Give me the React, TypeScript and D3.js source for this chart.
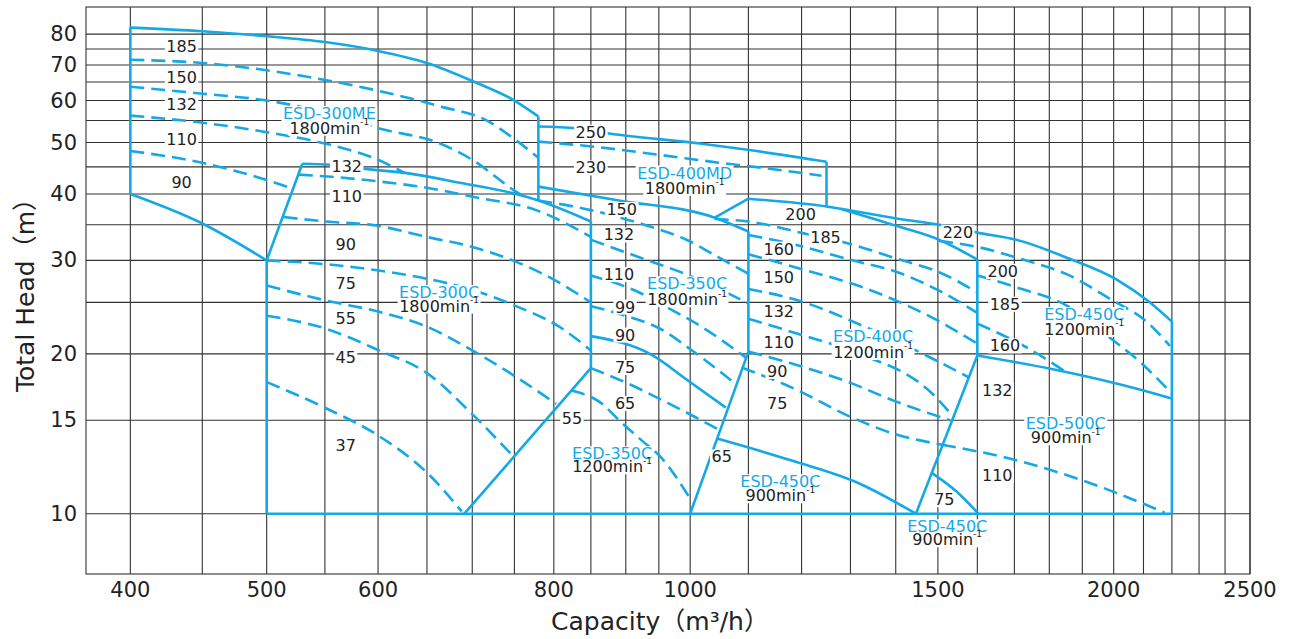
import { useEffect, useRef } from 'react';
import * as d3 from 'd3';

// axes
const xDomain = [372, 2500];
const yDomain = [7.7, 90];
const xGrid = [400, 450, 500, 550, 600, 650, 700, 750, 800, 850, 900, 950, 1000, 1100, 1200, 1300, 1400, 1500, 1600, 1700, 1800, 1900, 2000, 2100, 2200, 2300, 2400, 2500];
const xTicks = [400, 500, 600, 800, 1000, 1500, 2000, 2500];
const yGrid = [10, 15, 20, 25, 30, 35, 40, 45, 50, 55, 60, 65, 70, 75, 80];
const yTicks = [10, 15, 20, 30, 40, 50, 60, 70, 80];

// [capacity m3/h, head m]
// ESD-300ME 1800min-1
const me300Max = [[400, 82.3], [450, 81], [500, 79.3], [550, 77.3], [600, 74.4], [650, 70.6], [700, 65.3], [750, 60], [780, 56]];
const me300Left = [[400, 40], [400, 82.3]];
const me300Min = [[400, 40], [450, 35.2], [500, 30]];
const me300Right = [[780, 56], [780, 38.9]];
const me300Kw = [
  [[400, 71.6], [450, 70.6], [500, 68.4], [550, 65.6], [600, 62.6], [664, 58.5], [717, 55], [752, 50.5], [780, 46.8]],
  [[400, 63.7], [450, 61.8], [500, 60], [550, 57], [600, 53.2], [664, 49.8], [700, 46.4], [750, 40.6], [765, 39.3]],
  [[400, 56.2], [450, 54.5], [500, 52.3], [550, 49.8], [600, 46.4], [627, 43.8]],
  [[400, 48.2], [450, 45.8], [500, 42.5], [521, 41]],
];

// ESD-300C 1800min-1
const c300Edge = [[500, 30], [530, 45.6]];
const c300Max = [[530, 45.6], [556, 45.4], [587, 44.6], [629, 43.8], [689, 41.9], [752, 40], [780, 38.9], [850, 35.5]];
const c300Left = [[500, 10], [500, 30]];
const c300Right = [[850, 35.5], [850, 18.8]];
const baseline = [[500, 10], [2200, 10]];
const c300Kw = [
  [[527, 43.5], [556, 43.1], [598, 42.3], [650, 41.1], [705, 39.4], [777, 37.3], [850, 33.2]],
  [[514, 36.2], [551, 35.5], [598, 34.9], [650, 33.2], [700, 31.8], [750, 29.9], [794, 27.9], [850, 25]],
  [[500, 30], [551, 29.5], [601, 28.7], [650, 27.7], [700, 26.4], [752, 24.6], [807, 22.5], [850, 20.3]],
  [[500, 26.9], [551, 25.2], [601, 24], [650, 22.5], [700, 20.3], [752, 18.1], [803, 16.1]],
  [[500, 23.6], [551, 22.3], [601, 20.3], [650, 18.4], [700, 15.4], [745, 13.0]],
  [[500, 17.7], [551, 15.8], [601, 14.0], [650, 11.95], [688, 10.1]],
];

// ESD-400MD 1800min-1
const md400Max = [[780, 53.6], [830, 53.2], [876, 52], [1016, 49.8], [1102, 48.4], [1250, 46]];
const md400Right = [[1250, 46], [1250, 37.9]];
const md400Kw = [[[780, 50.2], [861, 49], [951, 47.4], [1050, 45.8], [1157, 44.4], [1240, 43.3]]];

// ESD-350C 1800min-1
const c350Max = [[780, 41.3], [890, 38.9], [1041, 36.1], [1100, 34]];
const c350Min = [[850, 21.6], [941, 19.85], [994, 17.9], [1060, 15.85]];
const c350Kw = [
  [[780, 38.9], [850, 37.3], [931, 34.9], [994, 32.8], [1050, 30.3], [1100, 28.3]],
  [[850, 32.8], [920, 30.4], [998, 28.1], [1100, 24.9]],
  [[850, 28.1], [920, 26.1], [962, 24.5], [1016, 22.6], [1095, 19.7]],
  [[850, 24.6], [904, 23.5], [952, 22.3], [1003, 20.3], [1076, 17.6]],
];

// ESD-350C 1200min-1
const c350LowLeft = [[691, 10], [850, 18.8]];
const c350LowKw = [
  [[850, 18.8], [900, 17.66], [967, 16.1], [1048, 14.4]],
  [[823, 17.06], [866, 16.1], [890, 15], [925, 13.7], [951, 12.86], [998, 10.77]],
];

// ESD-400C 1200min-1
const c400Edge = [[1041, 36.1], [1100, 39.2]];
const c400Left = [[1100, 34], [1100, 20.2]];
const c400Max = [[1280, 37.5], [1409, 34.7], [1503, 32.8], [1600, 30.1]];
const c400Right = [[1600, 30.1], [1600, 19.86]];
const c400Kw = [
  [[1041, 35.9], [1100, 35.5], [1200, 33.8], [1292, 32.35], [1409, 30.1], [1503, 28.5], [1600, 26.1]],
  [[1100, 33.5], [1194, 32], [1298, 30.1], [1409, 28.4], [1503, 26.3], [1600, 23.9]],
  [[1100, 30.8], [1194, 29], [1336, 26.5], [1486, 23.4], [1600, 20.9]],
  [[1100, 26.5], [1194, 25.2], [1336, 22.4], [1447, 20.3], [1579, 18.05]],
  [[1100, 23.3], [1194, 21.8], [1320, 20], [1486, 16.84], [1532, 15.43]],
  [[1100, 20.2], [1181, 19.18], [1304, 17.58], [1395, 16.33], [1530, 15]],
  [[1088, 18.85], [1181, 17.28], [1304, 15.17], [1395, 14.15], [1510, 13.49]],
];

// ESD-450C 1200min-1
const c450HiMax = [[1100, 39.2], [1250, 37.9], [1409, 35.9], [1503, 35], [1603, 33.8], [1705, 32.8], [1855, 30.3], [2010, 27.6], [2114, 25.2], [2200, 23]];
const c450HiRight = [[2200, 23], [2200, 10]];
const c450HiKw = [
  [[1503, 32.65], [1600, 31.8], [1724, 30.1], [1855, 28.2], [1997, 25.2], [2107, 23.1], [2193, 20.7]],
  [[1600, 28.1], [1705, 26.7], [1855, 24.6], [1978, 21.67], [2090, 19.27], [2200, 16.84]],
  [[1600, 22.8], [1735, 20.56], [1843, 18.6]],
];

// ESD-450C 900min-1 (two bands)
const c450LowLeft = [[1000, 10], [1100, 20.2]];
const c450LowMax = [[1045, 13.85], [1181, 12.59], [1320, 11.39], [1447, 10]];
const c450Low2Left = [[1600, 19.86], [1447, 10]];
const c450Low2Max = [[1484, 11.95], [1547, 11.0], [1603, 10]];

// ESD-500C 900min-1
const c500Max = [[1600, 19.86], [1800, 18.77], [2100, 17.06], [2200, 16.47]];
const c500Kw = [[[1510, 13.49], [1687, 12.7], [1903, 11.54], [2100, 10.44], [2174, 10.04]]];

// motor kW labels [capacity, head, text]
const kwLabels: [number, number, string][] = [
  [435, 75.7, '185'], [435, 66.25, '150'], [435, 59, '132'], [435, 50.7, '110'], [435, 42.1, '90'],
  [570, 45, '132'], [570, 39.5, '110'], [569, 32.2, '90'], [569, 27.1, '75'], [569, 23.3, '55'], [569, 19.7, '45'], [569, 13.45, '37'],
  [850, 52.3, '250'], [850, 44.8, '230'],
  [894, 37.4, '150'], [890, 33.5, '132'], [890, 28.2, '110'], [899, 24.5, '99'], [899, 21.7, '90'],
  [899, 18.85, '75'], [899, 16.12, '65'], [824, 15.13, '55'],
  [1053, 12.8, '65'],
  [1198, 36.6, '200'], [1248, 33.1, '185'], [1156, 31.5, '160'], [1156, 27.8, '150'], [1156, 24.0, '132'], [1156, 21.0, '110'], [1153, 18.53, '90'], [1153, 16.12, '75'],
  [1550, 33.9, '220'], [1668, 28.6, '200'], [1674, 24.8, '185'], [1674, 20.7, '160'],
  [1653, 17.06, '132'], [1653, 11.79, '110'],
  [1516, 10.63, '75'],
];

// model labels [capacity, head of name, head of speed, name, speed]
const modelLabels: [number, number, number, string, string][] = [
  [554, 56.7, 53.2, 'ESD-300ME', '1800'],
  [663, 26.1, 24.6, 'ESD-300C', '1800'],
  [991, 43.8, 41.0, 'ESD-400MD', '1800'],
  [995, 27.1, 25.3, 'ESD-350C', '1800'],
  [880, 12.97, 12.26, 'ESD-350C', '1200'],
  [1159, 11.49, 10.81, 'ESD-450C', '900'],
  [1349, 21.57, 20.12, 'ESD-400C', '1200'],
  [1906, 23.72, 22.23, 'ESD-450C', '1200'],
  [1849, 14.78, 13.9, 'ESD-500C', '900'],
  [1523, 9.45, 8.93, 'ESD-450C', '900'],
];

const solidLines = [
  me300Max, me300Left, me300Min, me300Right,
  c300Edge, c300Max, c300Left, c300Right, baseline,
  md400Max, md400Right,
  c350Max, c350Min, c350LowLeft,
  c400Edge, c400Left, c400Max, c400Right,
  c450HiMax, c450HiRight,
  c450LowLeft, c450LowMax, c450Low2Left, c450Low2Max,
  c500Max,
];
const dashedLines = [...me300Kw, ...c300Kw, ...md400Kw, ...c350Kw, ...c350LowKw, ...c400Kw, ...c450HiKw, ...c500Kw];

const BLUE = '#14a9e6';
const FONT = "'DejaVu Sans', 'Noto Sans CJK JP', sans-serif";

export default function App() {
  const labelRef = useRef<SVGGElement>(null);
  const x = d3.scaleLog().domain(xDomain).range([86, 1250]);
  const y = d3.scaleLog().domain(yDomain).range([574, 7]);
  const path = (pts: number[][]) =>
    d3.line<number[]>()
      .x(d => x(d[0]))
      .y(d => y(d[1]))
      .curve(pts.length > 2 ? d3.curveMonotoneX : d3.curveLinear)(pts) || '';

  // white boxes behind the labels, as in the printed chart
  useEffect(() => {
    const g = d3.select(labelRef.current);
    g.selectAll('rect.bg').remove();
    const boxes: DOMRect[] = [];
    g.selectAll<SVGTextElement, unknown>('text.lbl').each(function () {
      boxes.push(this.getBBox());
    });
    boxes.forEach(b => {
      g.insert('rect', ':first-child')
        .attr('class', 'bg')
        .attr('x', b.x - 1.5)
        .attr('y', b.y + 2)
        .attr('width', b.width + 3)
        .attr('height', b.height - 4)
        .attr('fill', 'white');
    });
  }, []);

  return (
    <svg width={1292} height={639} style={{ position: 'absolute', left: 0, top: 0, background: 'white' }} fontFamily={FONT}>
      <g stroke="#333" strokeWidth={1.1}>
        {xGrid.map(v => <line key={'gx' + v} x1={x(v)} x2={x(v)} y1={y(yDomain[1])} y2={y(yDomain[0])} />)}
        {yGrid.map(v => <line key={'gy' + v} x1={x(xDomain[0])} x2={x(xDomain[1])} y1={y(v)} y2={y(v)} />)}
        <rect x={x(xDomain[0])} y={y(yDomain[1])} width={x(xDomain[1]) - x(xDomain[0])} height={y(yDomain[0]) - y(yDomain[1])} fill="none" />
      </g>
      <g fill="none" stroke={BLUE} strokeWidth={2.6} strokeLinejoin="round">
        {dashedLines.map((p, i) => <path key={'d' + i} d={path(p)} strokeDasharray="14 7" />)}
        {solidLines.map((p, i) => <path key={'s' + i} d={path(p)} />)}
      </g>
      <g ref={labelRef} fontSize={16} fill="#222" textAnchor="middle" dominantBaseline="central">
        {kwLabels.map(([q, h, t], i) => (
          <text key={'k' + i} className="lbl" x={x(q)} y={y(h)}>{t}</text>
        ))}
        {modelLabels.map(([q, h1, h2, name, sp], i) => (
          <g key={'m' + i}>
            <text className="lbl" x={x(q)} y={y(h1)} fill={BLUE}>{name}</text>
            <text className="lbl" x={x(q)} y={y(h2)} fontSize={16}>
              {sp + 'min'}
              <tspan fontSize={9} dy={-6}>-1</tspan>
            </text>
          </g>
        ))}
      </g>
      <g fontSize={21} fill="#222">
        {xTicks.map(v => (
          <text key={'tx' + v} x={x(v)} y={590} textAnchor="middle" dominantBaseline="central">{v}</text>
        ))}
        {yTicks.map(v => (
          <text key={'ty' + v} x={77} y={y(v)} textAnchor="end" dominantBaseline="central">{v}</text>
        ))}
      </g>
      <text x={660} y={621} fontSize={25} fill="#222" textAnchor="middle" dominantBaseline="central">Capacity（m³/h）</text>
      <text transform="translate(25,289) rotate(-90)" fontSize={25} fill="#222" textAnchor="middle" dominantBaseline="central">Total  Head（m）</text>
    </svg>
  );
}
